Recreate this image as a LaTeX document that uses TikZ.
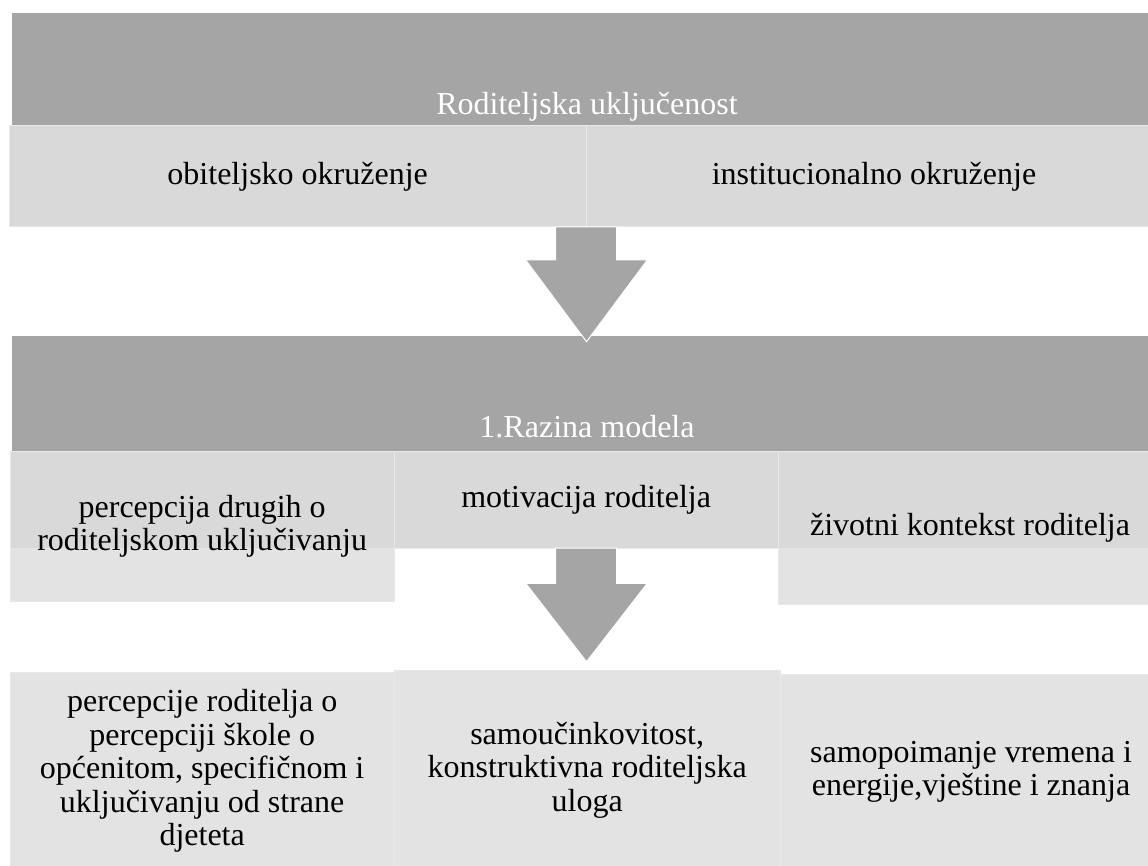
\documentclass[tikz,border=0pt]{standalone}
\usepackage{fontspec}
\setmainfont{Liberation Serif}
\usepackage{tikz}
\usetikzlibrary{calc}

\definecolor{bandgrey}{HTML}{A5A5A5}
\definecolor{cellgrey}{HTML}{D9D9D9}
\definecolor{palegrey}{HTML}{E3E3E3}
\definecolor{edgegrey}{HTML}{E9E9E9}

\tikzset{
  band/.style={fill=bandgrey, inner sep=0pt, outer sep=0pt, anchor=north west},
  bandtext/.style={anchor=base, text=white, inner sep=0pt},
  cell/.style={fill=cellgrey, draw=edgegrey, line width=1pt, inner sep=4pt, outer sep=0pt, anchor=north west, align=center},
  palecell/.style={cell, fill=palegrey},
  splitcell/.style={palecell, path picture={\fill[cellgrey] (path picture bounding box.north west) rectangle ([yshift=-96.3pt]path picture bounding box.north east);}},
  downarrow/.style={fill=bandgrey, draw=white, line width=1pt, line join=miter}
}

\begin{document}
\begin{tikzpicture}[x=1pt, y=-1pt, font=\fontsize{32}{33.5}\selectfont]
\useasboundingbox (0,0) rectangle (1148,866);
%\draw[step=50,gray,very thin] (0,0) grid (1148,866);

% level 0
\node[band, minimum width=1150, minimum height=113] (band0) at (12,13) {};
\node[bandtext] (lvl0) at ([yshift=11pt]band0.south) {Roditeljska uključenost};
\node[cell, minimum width=576.7, minimum height=101] (family) at (9.3,126) {obiteljsko okruženje};
\node[cell, minimum width=576, minimum height=101] (institution) at (586,126) {institucionalno okruženje};

% level 1
\node[band, minimum width=1150, minimum height=115.7] (band1) at (12,336) {};
\node[bandtext] (lvl1) at ([yshift=14.4pt]band1.south) {1.Razina modela};
\node[splitcell, minimum width=384.3, minimum height=149.3] (others) at (10,451.7) {percepcija drugih o\\roditeljskom uključivanju};
\node[cell, minimum width=383.7, minimum height=96.3] (motiv) at (394.3,451.7) {motivacija roditelja};
\node[splitcell, minimum width=384, minimum height=152.3] (context) at (778,451.7) {životni kontekst roditelja};

% level 2
\node[palecell, minimum width=384.3, minimum height=198] (school) at (10,672) {percepcije roditelja o\\percepciji škole o\\općenitom, specifičnom i\\uključivanju od strane\\djeteta};
\node[palecell, minimum width=385.7, minimum height=199] (efficacy) at (394.3,670.7) {samoučinkovitost,\\konstruktivna roditeljska\\uloga};
\node[palecell, minimum width=382, minimum height=196] (selfcon) at (780,674) {samopoimanje vremena i\\energije,vještine i znanja};

% arrows
\coordinate (tip0) at (586.5,341.7);
\coordinate (tip1) at (586.5,661.7);
\draw[downarrow] ($(family.south east)+(-30.5,0)$) |- ($(tip0)+(-60.8,-81.7)$) -- (tip0) -- ($(tip0)+(60.8,-81.7)$) -| ($(family.south east)+(30.5,0)$) -- cycle;
\draw[downarrow] ($(motiv.south)+(-30.5,0)$) |- ($(tip1)+(-60.8,-78.4)$) -- (tip1) -- ($(tip1)+(60.8,-78.4)$) -| ($(motiv.south)+(30.5,0)$) -- cycle;

\end{tikzpicture}
\end{document}
